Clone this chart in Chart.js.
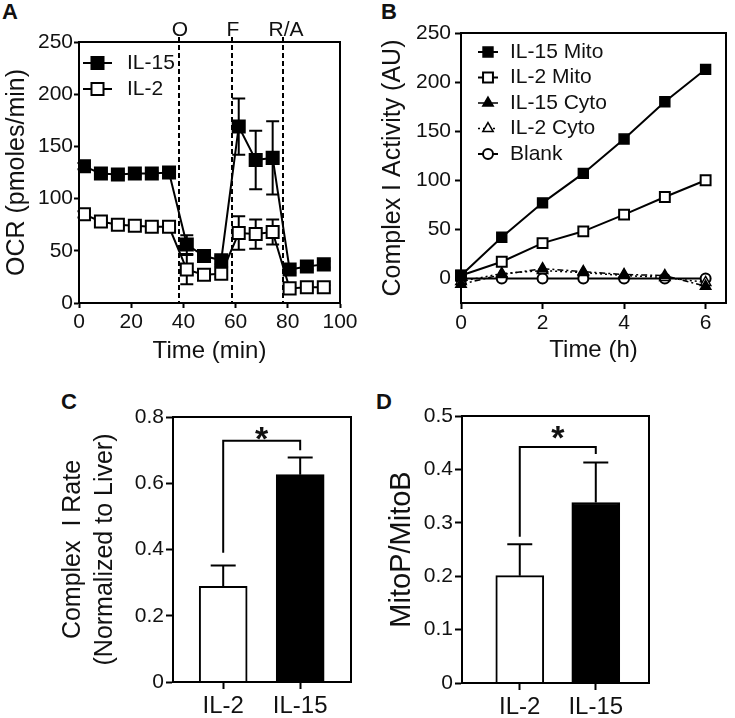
<!DOCTYPE html>
<html>
<head>
<meta charset="utf-8">
<script src="https://cdn.jsdelivr.net/npm/chart.js@4.4.1/dist/chart.umd.min.js"></script>
<style>
  body { margin: 0; background: #fff; width: 735px; height: 718px; position: relative; overflow: hidden; font-family: "Liberation Sans", Arial, sans-serif; }
  canvas { position: absolute; }
  .tag { position: absolute; font-weight: bold; font-size: 22px; line-height: 1; color: #111; }
</style>
</head>
<body>
<div class="tag" style="left:2px;top:1px">A</div>
<div class="tag" style="left:381px;top:1px">B</div>
<div class="tag" style="left:61px;top:391px">C</div>
<div class="tag" style="left:376px;top:391px">D</div>
<canvas id="chartA" width="360" height="370" style="left:0;top:0"></canvas>
<canvas id="chartB" width="375" height="370" style="left:360px;top:0"></canvas>
<canvas id="chartC" width="367" height="348" style="left:0;top:370px"></canvas>
<canvas id="chartD" width="368" height="348" style="left:367px;top:370px"></canvas>
<script>
// ---- data ----
// A: Seahorse OCR trace
const ocrTime = [1.9, 8.4, 14.9, 21.4, 27.9, 34.5, 41.3, 47.9, 54.5, 61.2, 67.7, 74.2, 80.7, 87.3, 93.8];
const ocrIL15 = [131, 124, 123, 124, 124, 125, 56, 45, 41, 169, 137, 139, 32, 35, 37];
const ocrIL15Err = [3, 2, 2, 2, 2, 2, 9, 4, 4, 27, 28, 35, 3, 3, 3];
const ocrIL2 = [85, 78, 75, 74, 73, 73, 32, 27, 28, 67, 66, 68, 14, 15, 15];
const ocrIL2Err = [3, 2, 2, 2, 2, 2, 14, 3, 3, 16, 14, 12, 2, 2, 2];
const injectionTimes = [38.3, 58.5, 78.3];
const injectionLabels = ["O", "F", "R/A"];
const ocrXTicks = [0, 20, 40, 60, 80, 100];
const ocrYTicks = [0, 50, 100, 150, 200, 250];

// B: complex I activity over time
const hours = [0, 1, 2, 3, 4, 5, 6];
const il15Mito = [3, 42, 77, 107, 142, 180, 213];
const il2Mito = [3, 17, 36, 48, 65, 83, 100];
const il15Cyto = [-6, 4, 10, 7, 4, 3, -8];
const il2Cyto = [-3, 5, 8, 6, 3, 1, -4];
const blank = [0, 0, 0, 0, 0, 0, 0];
const hourTicks = [0, 2, 4, 6];
const activityTicks = [0, 50, 100, 150, 200, 250];

// C, D: bar panels
const groups = ["IL-2", "IL-15"];
const complexIRate = [0.289, 0.626];
const complexIRateErr = [0.063, 0.052];
const rateTicks = [0, 0.2, 0.4, 0.6, 0.8];
const mitoRatio = [0.201, 0.338];
const mitoRatioErr = [0.059, 0.075];
const ratioTicks = [0, 0.1, 0.2, 0.3, 0.4, 0.5];
const sigC = { from: 0, to: 1, leftEnd: 0.39, top: 0.728, rightEnd: 0.70, star: 0.757 };
const sigD = { from: 0, to: 1, leftEnd: 0.274, top: 0.442, rightEnd: 0.429, star: 0.474 };

const FONT = '"Liberation Sans", Arial, Helvetica, sans-serif';
const INK = "#111";
Chart.defaults.font.family = FONT;
Chart.defaults.color = INK;

function setTicks(list) {
  return (scale) => { scale.ticks = list.map(v => ({ value: v })); };
}

function axis(extra, tickLen) {
  return Object.assign({
    grid: { drawOnChartArea: false, drawTicks: true, tickLength: tickLen, tickWidth: 2, tickColor: "#000", offset: false },
    border: { display: true, color: "#000", width: 2 },
    offset: false
  }, extra);
}

const frame = {
  id: "frame",
  afterDraw(chart) {
    const { ctx, chartArea: a } = chart;
    ctx.save();
    ctx.strokeStyle = "#000";
    ctx.lineWidth = 2;
    ctx.strokeRect(a.left, a.top, a.right - a.left, a.bottom - a.top);
    ctx.restore();
  }
};

function makeErrorBars(under, upOnly, cap) {
  function draw(chart) {
    const ctx = chart.ctx, y = chart.scales.y;
    ctx.save();
    ctx.strokeStyle = "#000";
    ctx.lineWidth = 2;
    chart.data.datasets.forEach((ds, di) => {
      if (!ds.errors) return;
      chart.getDatasetMeta(di).data.forEach((el, i) => {
        const v = ds.data[i].y;
        const top = y.getPixelForValue(v + ds.errors[i]);
        const bot = upOnly ? el.y : y.getPixelForValue(v - ds.errors[i]);
        ctx.beginPath();
        ctx.moveTo(el.x, bot); ctx.lineTo(el.x, top);
        ctx.moveTo(el.x - cap / 2, top); ctx.lineTo(el.x + cap / 2, top);
        if (!upOnly) { ctx.moveTo(el.x - cap / 2, bot); ctx.lineTo(el.x + cap / 2, bot); }
        ctx.stroke();
      });
    });
    ctx.restore();
  }
  return {
    id: "errorBars",
    beforeDatasetsDraw(chart) { if (under) draw(chart); },
    afterDatasetsDraw(chart) { if (!under) draw(chart); }
  };
}

function makeLegend(o) {
  return {
    id: "boxLegend",
    afterDraw(chart) {
      const ctx = chart.ctx;
      ctx.save();
      chart.data.datasets.forEach((ds, i) => {
        const y = o.y + i * o.gap;
        ctx.strokeStyle = ds.borderColor;
        ctx.lineWidth = ds.borderWidth;
        ctx.setLineDash(ds.borderDash || []);
        ctx.beginPath(); ctx.moveTo(o.x0, y); ctx.lineTo(o.x1, y); ctx.stroke();
        ctx.setLineDash([]);
        ctx.fillStyle = ds.pointBackgroundColor;
        ctx.strokeStyle = ds.pointBorderColor;
        ctx.lineWidth = ds.pointBorderWidth;
        Chart.helpers.drawPoint(ctx, { pointStyle: ds.pointStyle, radius: ds.pointRadius, rotation: 0, borderWidth: ds.pointBorderWidth }, (o.x0 + o.x1) / 2, y);
        ctx.fillStyle = INK;
        ctx.font = o.size + "px " + FONT;
        ctx.textAlign = "left";
        ctx.textBaseline = "middle";
        ctx.fillText(ds.label, o.tx, y);
      });
      ctx.restore();
    }
  };
}

const injections = {
  id: "injections",
  beforeDatasetsDraw(chart) {
    const { ctx, chartArea: a, scales: { x } } = chart;
    ctx.save();
    ctx.strokeStyle = "#000";
    ctx.lineWidth = 2;
    ctx.setLineDash([5, 3]);
    ctx.fillStyle = INK;
    ctx.font = "21px " + FONT;
    ctx.textAlign = "center";
    ctx.textBaseline = "middle";
    injectionTimes.forEach((t, i) => {
      const px = Math.round(x.getPixelForValue(t));
      ctx.beginPath(); ctx.moveTo(px, a.top - 5); ctx.lineTo(px, a.bottom); ctx.stroke();
      ctx.fillText(injectionLabels[i], px + (i === 2 ? 3 : 1), a.top - 12);
    });
    ctx.restore();
  }
};

function makeBracket(b) {
  return {
    id: "bracket",
    afterDatasetsDraw(chart) {
      const { ctx, scales: { x, y } } = chart;
      const x1 = x.getPixelForValue(b.from), x2 = x.getPixelForValue(b.to);
      const yt = y.getPixelForValue(b.top);
      ctx.save();
      ctx.strokeStyle = "#000";
      ctx.lineWidth = 2;
      ctx.beginPath();
      ctx.moveTo(x1, y.getPixelForValue(b.leftEnd));
      ctx.lineTo(x1, yt); ctx.lineTo(x2, yt);
      ctx.lineTo(x2, y.getPixelForValue(b.rightEnd));
      ctx.stroke();
      ctx.font = "bold 34px " + FONT;
      ctx.fillStyle = INK;
      ctx.textAlign = "center";
      ctx.textBaseline = "alphabetic";
      ctx.fillText("*", (x1 + x2) / 2, y.getPixelForValue(b.star) + 0.56 * 34);
      ctx.restore();
    }
  };
}

const base = { responsive: false, animation: false, events: [], plugins: { legend: { display: false }, tooltip: { enabled: false } } };
const tickFont = { size: 21 };

// ---- A ----
new Chart(document.getElementById("chartA"), {
  type: "line",
  data: {
    datasets: [
      { label: "IL-15", data: ocrTime.map((t, i) => ({ x: t, y: ocrIL15[i] })), errors: ocrIL15Err,
        borderColor: "#000", borderWidth: 2, pointStyle: "rect", pointRadius: 8.5,
        pointBackgroundColor: "#000", pointBorderColor: "#000", pointBorderWidth: 2, tension: 0 },
      { label: "IL-2", data: ocrTime.map((t, i) => ({ x: t, y: ocrIL2[i] })), errors: ocrIL2Err,
        borderColor: "#000", borderWidth: 2, pointStyle: "rect", pointRadius: 8.5,
        pointBackgroundColor: "#fff", pointBorderColor: "#000", pointBorderWidth: 2, tension: 0 }
    ]
  },
  options: Object.assign({}, base, {
    layout: { padding: { left: 0, top: 42, right: 20, bottom: 0 } },
    scales: {
      x: axis({ type: "linear", min: 0, max: 100, afterBuildTicks: setTicks(ocrXTicks), afterFit: s => { s.height = 67; },
        ticks: { font: tickFont, padding: 2, maxRotation: 0, autoSkip: false },
        title: { display: true, text: "Time (min)", font: { size: 24 }, padding: { top: 0, bottom: 4 } } }, 5),
      y: axis({ min: 0, max: 250, afterBuildTicks: setTicks(ocrYTicks), afterFit: s => { s.width = 79; },
        ticks: { font: tickFont, padding: 1 },
        title: { display: true, text: "OCR (pmoles/min)", font: { size: 25 }, padding: { top: 2, bottom: 0 } } }, 5)
    }
  }),
  plugins: [injections, makeErrorBars(true, false, 13), frame, makeLegend({ x0: 83, x1: 112, y: 63, gap: 26, tx: 127, size: 21 })]
});

// ---- B ----
function bSet(label, values, style) {
  return Object.assign({ label, data: hours.map((h, i) => ({ x: h, y: values[i] })), borderColor: "#000",
    pointBorderColor: "#000", tension: 0, clip: false }, style);
}
new Chart(document.getElementById("chartB"), {
  type: "line",
  data: {
    datasets: [
      bSet("IL-15 Mito", il15Mito, { borderWidth: 2, pointStyle: "rect", pointRadius: 7, pointBackgroundColor: "#000", pointBorderWidth: 1.5 }),
      bSet("IL-2 Mito", il2Mito, { borderWidth: 2, pointStyle: "rect", pointRadius: 7, pointBackgroundColor: "#fff", pointBorderWidth: 2 }),
      bSet("IL-15 Cyto", il15Cyto, { borderWidth: 1.5, borderDash: [6, 3, 2, 3], pointStyle: "triangle", pointRadius: 6, pointBackgroundColor: "#000", pointBorderWidth: 1.5 }),
      bSet("IL-2 Cyto", il2Cyto, { borderWidth: 1.5, borderDash: [2, 3], pointStyle: "triangle", pointRadius: 6, pointBackgroundColor: "#fff", pointBorderWidth: 1.5 }),
      bSet("Blank", blank, { borderWidth: 2, pointStyle: "circle", pointRadius: 5, pointBackgroundColor: "#fff", pointBorderWidth: 2 })
    ]
  },
  options: Object.assign({}, base, {
    layout: { padding: { left: 0, top: 33, right: 3, bottom: 0 } },
    scales: {
      x: axis({ type: "linear", min: 0, max: 6.5, afterBuildTicks: setTicks(hourTicks), afterFit: s => { s.height = 67; },
        ticks: { font: tickFont, padding: 2, maxRotation: 0, autoSkip: false },
        title: { display: true, text: "Time (h)", font: { size: 24 }, padding: { top: 0, bottom: 5 } } }, 6),
      y: axis({ min: -25, max: 250, afterBuildTicks: setTicks(activityTicks), afterFit: s => { s.width = 101; },
        ticks: { font: tickFont, padding: 4 },
        title: { display: true, text: "Complex I Activity (AU)", font: { size: 25 }, padding: { top: 18, bottom: 0 } } }, 6)
    }
  }),
  plugins: [frame, makeLegend({ x0: 118, x1: 138, y: 52, gap: 25.5, tx: 150, size: 21 })]
});

// ---- C, D ----
function barChart(id, values, errs, yTicks, yMax, xMin, xMax, pad, yWidth, xHeight, yTitle, titleFont, titlePad, sig) {
  return new Chart(document.getElementById(id), {
    type: "bar",
    data: {
      datasets: [{ data: groups.map((g, i) => ({ x: i, y: values[i] })), errors: errs,
        backgroundColor: ["#fff", "#000"], borderColor: "#000", borderWidth: 2, barThickness: 48 }]
    },
    options: Object.assign({}, base, {
      layout: { padding: pad },
      scales: {
        x: axis({ type: "linear", min: xMin, max: xMax, afterBuildTicks: setTicks([0, 1]), afterFit: s => { s.height = xHeight; },
          ticks: { font: { size: 24 }, padding: 3, maxRotation: 0, autoSkip: false, callback: v => groups[v] } }, 7),
        y: axis({ min: 0, max: yMax, afterBuildTicks: setTicks(yTicks), afterFit: s => { s.width = yWidth; },
          ticks: { font: tickFont, padding: 2 },
          title: { display: true, text: yTitle, font: titleFont, padding: { top: titlePad, bottom: 0 } } }, 7)
      }
    }),
    plugins: [makeErrorBars(false, true, 25), makeBracket(sig), frame]
  });
}

barChart("chartC", complexIRate, complexIRateErr, rateTicks, 0.8, -0.652, 1.66,
  { left: 0, top: 47, right: 16, bottom: 0 }, 173, 36,
  ["Complex  I Rate", "(Normalized to Liver)"], { size: 25, lineHeight: 1.27 }, 57, sigC);

barChart("chartD", mitoRatio, mitoRatioErr, ratioTicks, 0.5, -0.76, 1.70,
  { left: 0, top: 46, right: 86, bottom: 0 }, 95, 35,
  "MitoP/MitoB", { size: 29 }, 18, sigD);
</script>
</body>
</html>
